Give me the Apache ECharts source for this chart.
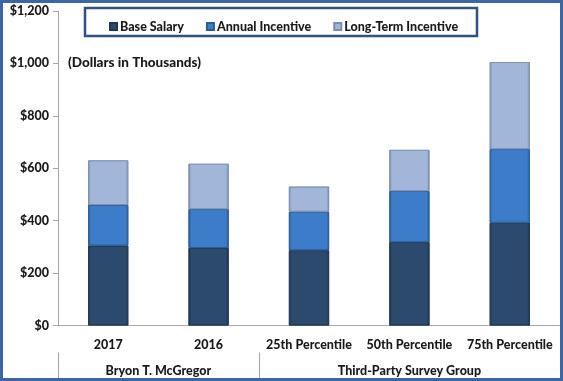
<!DOCTYPE html>
<html>
<head>
<meta charset="utf-8">
<script src="https://cdn.jsdelivr.net/npm/echarts@6/dist/echarts.min.js"></script>
<style>
html,body{margin:0;padding:0;background:#fff;}
#c{width:563px;height:381px;}
</style>
</head>
<body>
<div id="c"></div>
<script>
var categories = ['2017', '2016', '25th Percentile', '50th Percentile', '75th Percentile'];
var groups = [
  {name: 'Bryon T. McGregor', from: 0, to: 1},
  {name: 'Third-Party Survey Group', from: 2, to: 4}
];
var baseSalary = [305, 296, 287, 318, 392];
var annualIncentive = [155, 148, 147, 195, 281];
var longTermIncentive = [170, 173, 96, 157, 332];
var yTicks = [0, 200, 400, 600, 800, 1000, 1200];

var FONT = 'Lato';
var FW = 900;
function bevel(c, dark) {
  return {
    type: 'linear', x: 0, y: 0, x2: 1, y2: 0,
    colorStops: [
      {offset: 0, color: dark}, {offset: 0.07, color: c},
      {offset: 0.93, color: c}, {offset: 1, color: dark}
    ]
  };
}
function series(name, data, c, dark) {
  return {
    name: name, type: 'bar', stack: 'total', data: data, barWidth: '40%',
    itemStyle: {color: bevel(c, dark), borderColor: dark, borderWidth: 0.8},
    emphasis: {disabled: true}
  };
}
var chart = echarts.init(document.getElementById('c'));
var option = {
  animation: false,
  grid: {left: 58, right: 3, top: 11, bottom: 55.5},
  legend: {
    left: 104, top: 15, itemWidth: 7, itemHeight: 7, itemGap: 22,
    icon: 'rect',
    textStyle: {fontFamily: FONT, fontWeight: FW, fontSize: 12.5, color: '#1a1a1a', padding: [0, 0, 0, -2]},
    data: ['Base Salary', 'Annual Incentive', 'Long-Term Incentive']
  },
  xAxis: {
    type: 'category', data: categories,
    axisLine: {lineStyle: {color: '#a6a6a6', width: 1}},
    axisTick: {length: 27, interval: 0, lineStyle: {color: '#a6a6a6'}},
    axisLabel: {interval: 0, fontFamily: FONT, fontWeight: FW, fontSize: 12.5, color: '#1a1a1a', margin: 13}
  },
  yAxis: {
    type: 'value', min: 0, max: 1200, interval: 200,
    splitLine: {show: false},
    axisLine: {show: true, lineStyle: {color: '#a6a6a6'}},
    axisTick: {show: true, length: 5, lineStyle: {color: '#a6a6a6'}},
    axisLabel: {
      fontFamily: FONT, fontWeight: FW, fontSize: 12.5, color: '#1a1a1a', margin: 9,
      formatter: function (v) { return '$' + v.toLocaleString('en-US'); }
    }
  },
  series: [
    series('Base Salary', baseSalary, '#2c4a6e', '#1f3552'),
    series('Annual Incentive', annualIncentive, '#3d7cc8', '#2b5c98'),
    series('Long-Term Incentive', longTermIncentive, '#a2b6da', '#7d8fb0')
  ]
};
chart.setOption(option);

var y0 = chart.convertToPixel({yAxisIndex: 0}, 0);
var c0 = chart.convertToPixel({xAxisIndex: 0}, categories[0]);
var c1 = chart.convertToPixel({xAxisIndex: 0}, categories[1]);
var band = c1 - c0;
var g = [];
groups.forEach(function (gr) {
  var l = chart.convertToPixel({xAxisIndex: 0}, categories[gr.from]) - band / 2;
  var r = chart.convertToPixel({xAxisIndex: 0}, categories[gr.to]) + band / 2;
  g.push({type: 'line', shape: {x1: Math.round(l) + 0.5, y1: y0 + 27, x2: Math.round(l) + 0.5, y2: 381}, style: {stroke: '#a6a6a6', lineWidth: 1}, silent: true});
  g.push({type: 'text', x: (l + r) / 2, y: y0 + 45, style: {text: gr.name, fontFamily: FONT, fontWeight: FW, fontSize: 12.5, fill: '#1a1a1a', align: 'center', verticalAlign: 'middle'}, silent: true});
});
g.push({type: 'rect', shape: {x: 85, y: 8, width: 392, height: 28}, style: {fill: 'none', stroke: '#2f5184', lineWidth: 2.5}, silent: true});
g.push({type: 'text', x: 68, y: 63, style: {text: '(Dollars in Thousands)', fontFamily: FONT, fontWeight: FW, fontSize: 13.5, fill: '#1a1a1a', verticalAlign: 'middle'}, silent: true});
g.push({type: 'rect', shape: {x: 1.5, y: 1.5, width: 560, height: 378}, style: {fill: 'none', stroke: '#3d66a5', lineWidth: 3}, silent: true, z: 100});
chart.setOption({graphic: g});
</script>
</body>
</html>
